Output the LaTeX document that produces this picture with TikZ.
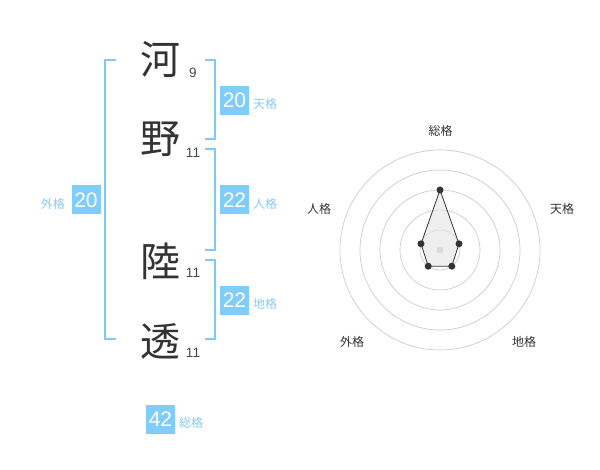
\documentclass[tikz,border=0pt]{standalone}
\usepackage{fontspec}
\setmainfont{Liberation Sans}
\newfontfamily\cjk{Noto Sans CJK JP}
\definecolor{boxblue}{HTML}{80CCFA}
\definecolor{lblblue}{HTML}{86CBF3}
\definecolor{brk}{HTML}{80C8F8}
\definecolor{ink}{HTML}{333333}
\definecolor{ring}{HTML}{CCCCCC}
\begin{document}
\begin{tikzpicture}[x=1pt,y=-1pt,
  kanji/.style={font=\cjk\fontsize{40}{42}\selectfont, text=ink, inner sep=0pt},
  strk/.style={font=\fontsize{13.5}{14}\selectfont, text=ink!90, inner sep=0pt},
  numbox/.style={fill=boxblue, text=white, font=\fontsize{21}{22}\selectfont, minimum width=29pt, minimum height=29pt, inner sep=0pt},
  lbl/.style={font=\cjk\fontsize{12}{13}\selectfont, text=lblblue, inner sep=0pt},
  axlbl/.style={font=\cjk\fontsize{12}{13}\selectfont, text=ink, inner sep=0pt},
  bracket/.style={draw=brk, line width=2pt},
  dot/.style={circle, fill=ink, inner sep=0pt, minimum size=7pt}]
\useasboundingbox (0,0) rectangle (600,470);
% kanji
\node[kanji] (k1) at (160,59.5) {河};
\node[kanji] (k2) at (160,139.5) {野};
\node[kanji] (k3) at (160,261.5) {陸};
\node[kanji] (k4) at (160,341.5) {透};
\node[strk] (s1) at (193,73) {9};
\node[strk] (s2) at (193,153) {11};
\node[strk] (s3) at (193,273) {11};
\node[strk] (s4) at (193,353) {11};
% brackets
\draw[bracket] (116,60) -- (105,60) -- (105,339.5) -- (116,339.5);
\draw[bracket] (205,60) -- (214.5,60) -- (214.5,139.5) -- (205,139.5);
\draw[bracket] (205,149.5) -- (214.5,149.5) -- (214.5,250) -- (205,250);
\draw[bracket] (205,260) -- (214.5,260) -- (214.5,339.5) -- (205,339.5);
% boxes
\node[numbox] (ten) at (234.5,100.5) {20};
\node[lbl, anchor=west] (tenl) at (253,104) {天格};
\node[numbox] (jin) at (234.5,200) {22};
\node[lbl, anchor=west] (jinl) at (253,203.5) {人格};
\node[numbox] (gai) at (86,200) {20};
\node[lbl, anchor=east] (gail) at (65,203.5) {外格};
\node[numbox] (chi) at (234.5,300.5) {22};
\node[lbl, anchor=west] (chil) at (253,304) {地格};
\node[numbox] (sou) at (160.5,419) {42};
\node[lbl, anchor=west] (soul) at (179,423) {総格};
% radar
\coordinate (c) at (440,250);
\foreach \r in {20,40,60,80,100} \draw[ring, line width=0.7pt] (c) circle[radius=\r];
\fill[ring] (c) circle[radius=3.5];
\coordinate (p1) at (440,190);
\coordinate (p2) at (459,243.8);
\coordinate (p3) at (451.8,266.2);
\coordinate (p4) at (428.2,266.2);
\coordinate (p5) at (421,243.8);
\filldraw[fill=gray!20, fill opacity=0.6, draw=ink, line width=0.8pt] (p1) -- (p2) -- (p3) -- (p4) -- (p5) -- cycle;
\foreach \p in {p1,p2,p3,p4,p5} \node[dot] at (\p) {};
\node[axlbl] (a1) at (440.7,131) {総格};
\node[axlbl] (a2) at (562,209) {天格};
\node[axlbl] (a3) at (319,209) {人格};
\node[axlbl] (a4) at (352,342) {外格};
\node[axlbl] (a5) at (524,342) {地格};
\end{tikzpicture}
\end{document}
